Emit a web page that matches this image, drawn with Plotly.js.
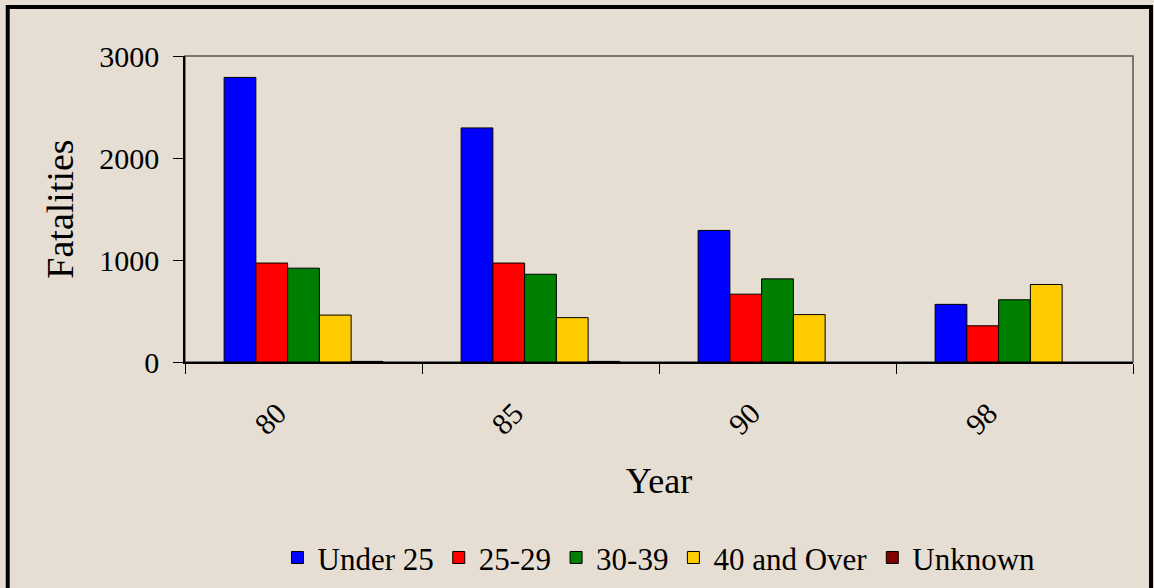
<!DOCTYPE html>
<html>
<head>
<meta charset="utf-8">
<script src="https://cdn.plot.ly/plotly-3.0.1.min.js"></script>
<style>
  body { margin: 0; background: #e6ded2; }
  #myPlot { width: 1154px; height: 588px; }
</style>
</head>
<body>
<div id="myPlot"></div>
<script>
// data
const years = ['80', '85', '90', '98']
const seriesNames = ['Under 25', '25-29', '30-39', '40 and Over', 'Unknown']
const under25 = [2790, 2295, 1290, 565]
const age25to29 = [970, 970, 665, 355]
const age30to39 = [920, 860, 815, 610]
const age40plus = [460, 435, 465, 760]
const unknown = [6, 6, 0, 0]
const colors = ['#0000ff', '#ff0000', '#008000', '#ffcc00', '#800000']

const serif = '"Liberation Serif", "Times New Roman", serif'
const values = [under25, age25to29, age30to39, age40plus, unknown]

const traces = []
for (let i = 0; i < values.length; i++) {
    traces.push({
        type: 'bar',
        name: seriesNames[i],
        x: years,
        y: values[i],
        marker: {
            color: colors[i],
            // no outline on empty bars, like the original
            line: { color: '#000', width: values[i].map(v => v > 0 ? 1 : 0) }
        },
        hoverinfo: 'x+y+name'
    })
}

const layout = {
    width: 1154,
    height: 588,
    margin: { l: 185, r: 21, t: 56, b: 226, autoexpand: false },
    paper_bgcolor: '#e6ded2',
    plot_bgcolor: '#e6ded2',
    font: { family: serif, size: 30, color: '#000' },
    barmode: 'group',
    bargap: 0.33,
    bargroupgap: 0,
    showlegend: true,
    legend: {
        orientation: 'h',
        x: 0.5, xanchor: 'center',
        y: -0.64, yanchor: 'middle',
        font: { family: serif, size: 31, color: '#000' },
        bgcolor: 'rgba(0,0,0,0)',
        itemwidth: 30,
        traceorder: 'normal'
    },
    xaxis: {
        type: 'category',
        tickangle: -45,
        ticks: 'outside',
        tickson: 'boundaries',
        ticklen: 10,
        tickcolor: '#000',
        showline: true,
        linecolor: '#000',
        linewidth: 1.5,
        showgrid: false,
        zeroline: false,
        tickfont: { family: serif, size: 30, color: '#000' },
        ticklabelstandoff: 20,
        ticklabelshift: -26,
        title: { text: 'Year', font: { family: serif, size: 36, color: '#000' }, standoff: 28 },
        automargin: false
    },
    yaxis: {
        range: [0, 3000],
        tickvals: [0, 1000, 2000, 3000],
        ticks: 'outside',
        ticklen: 10,
        tickcolor: '#000',
        showline: true,
        linecolor: '#000',
        linewidth: 1.5,
        showgrid: false,
        zeroline: false,
        tickfont: { family: serif, size: 30, color: '#000' },
        ticklabelstandoff: 8,
        title: { text: 'Fatalities', font: { family: serif, size: 38, color: '#000' }, standoff: 14 },
        automargin: false
    },
    shapes: [
        // plot area frame (top/right in grey)
        { type: 'rect', xref: 'paper', yref: 'paper', x0: 0, x1: 1, y0: 0, y1: 1,
          line: { color: '#555', width: 1.5 }, layer: 'below' },
        // outer black frame of the slide
        { type: 'rect', xref: 'paper', yref: 'paper',
          x0: -0.187, x1: 1.019, y0: -0.85, y1: 1.16,
          line: { color: '#000', width: 4 } }
    ]
}

Plotly.newPlot('myPlot', traces, layout, { displayModeBar: false })
</script>
</body>
</html>
